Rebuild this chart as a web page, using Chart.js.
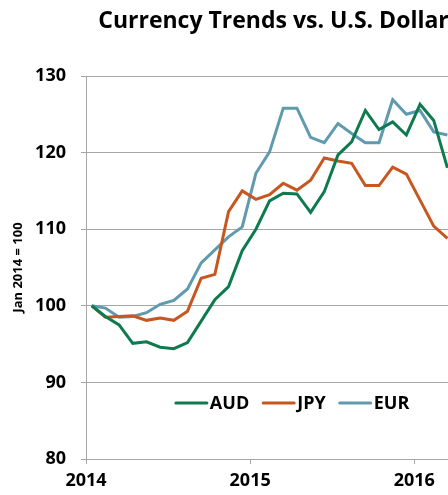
<!DOCTYPE html>
<html>
<head>
<meta charset="utf-8">
<script src="https://cdn.jsdelivr.net/npm/chart.js@4"></script>
<style>
  html, body { margin: 0; padding: 0; background: #fff; overflow: hidden; }
  #wrap { width: 547px; height: 495px; }
</style>
</head>
<body>
<div id="wrap"><canvas id="chart" width="547" height="495"></canvas></div>
<script>
// monthly index values, Jan 2014 = 100
const months = ['2014-01', '2014-02', '2014-03', '2014-04', '2014-05', '2014-06', '2014-07', '2014-08', '2014-09',
  '2014-10', '2014-11', '2014-12', '2015-01', '2015-02', '2015-03', '2015-04', '2015-05', '2015-06', '2015-07',
  '2015-08', '2015-09', '2015-10', '2015-11', '2015-12', '2016-01', '2016-02', '2016-03'];
const aud = [100, 98.6, 97.5, 95.1, 95.3, 94.6, 94.4, 95.2, 98.0, 100.8, 102.5, 107.2, 110.0, 113.7, 114.7, 114.6,
  112.2, 114.9, 119.7, 121.4, 125.5, 123.0, 124.0, 122.3, 126.3, 124.2, 118.0];
const jpy = [100, 98.5, 98.6, 98.7, 98.1, 98.4, 98.1, 99.3, 103.6, 104.1, 112.3, 115.0, 113.9, 114.5, 116.0, 115.1,
  116.4, 119.3, 118.9, 118.6, 115.7, 115.7, 118.1, 117.2, 113.8, 110.4, 108.8];
const eur = [100, 99.7, 98.5, 98.6, 99.1, 100.2, 100.7, 102.2, 105.6, 107.3, 109.0, 110.3, 117.3, 120.1, 125.8, 125.8,
  122.0, 121.3, 123.8, 122.5, 121.3, 121.3, 126.9, 125.0, 125.5, 122.7, 122.3];
const seriesNames = ['AUD', 'JPY', 'EUR'];
const yearTicks = ['2014', '2015', '2016'];
const yTicks = [80, 90, 100, 110, 120, 130];

(function () {
  'use strict';

  const FONT = '"Open Sans", sans-serif';
  const colors = ['#0e7a50', '#c8561f', '#5f9aae'];
  const firstYear = Number(yearTicks[0]);

  // months since Jan 2014, points sit mid-month
  const toX = (label) => {
    const [y, m] = label.split('-').map(Number);
    return (y - firstYear) * 12 + (m - 1) + 0.42;
  };
  const points = (values) => values.map((v, i) => ({ x: toX(months[i]), y: v }));

  // legend sits inside the plot, below the curves
  const legendInside = {
    id: 'legendInside',
    afterDraw(chart) {
      const { ctx } = chart;
      ctx.save();
      ctx.font = `bold 18px ${FONT}`;
      ctx.textBaseline = 'middle';
      const lineLen = 31;
      const gap = 3;
      const spacing = 14;
      const widths = seriesNames.map((n) => lineLen + gap + ctx.measureText(n).width);
      const total = widths.reduce((a, b) => a + b, 0) + spacing * (widths.length - 1);
      let x = chart.scales.x.getPixelForValue(15.1) - total / 2;
      const y = chart.scales.y.getPixelForValue(87.3);
      seriesNames.forEach((name, i) => {
        ctx.strokeStyle = colors[i];
        ctx.lineWidth = 3;
        ctx.lineCap = 'round';
        ctx.beginPath();
        ctx.moveTo(x, y);
        ctx.lineTo(x + lineLen, y);
        ctx.stroke();
        ctx.fillStyle = '#000';
        ctx.fillText(name, x + lineLen + gap, y + 1);
        x += widths[i] + spacing;
      });
      ctx.restore();
    }
  };

  new Chart(document.getElementById('chart'), {
    type: 'line',
    data: {
      datasets: [aud, jpy, eur].map((values, i) => ({
        label: seriesNames[i],
        data: points(values),
        borderColor: colors[i],
        borderWidth: 3,
        pointRadius: 0,
        tension: 0,
        fill: false
      }))
    },
    options: {
      responsive: false,
      animation: false,
      layout: { padding: 0 },
      plugins: {
        legend: { display: false },
        tooltip: { enabled: false },
        title: {
          display: true,
          text: 'Currency Trends vs. U.S. Dollar',
          color: '#000',
          font: { family: FONT, size: 23, weight: 'bold' },
          padding: { top: 8, bottom: 40.4 }
        }
      },
      scales: {
        x: {
          type: 'linear',
          min: 0,
          max: 33.7,
          afterBuildTicks: (scale) => {
            scale.ticks = yearTicks.map((_, i) => ({ value: i * 12 }));
          },
          afterFit: (scale) => { scale.height = 36; },
          grid: { drawOnChartArea: false, drawTicks: true, tickLength: 5, color: '#a6a6a6' },
          border: { display: true, color: '#a6a6a6' },
          ticks: {
            autoSkip: false,
            maxRotation: 0,
            padding: 6,
            color: '#000',
            font: { family: FONT, size: 18, weight: 'bold' },
            callback: (value) => yearTicks[Math.round(value / 12)] ?? ''
          }
        },
        y: {
          min: yTicks[0],
          max: yTicks[yTicks.length - 1],
          afterBuildTicks: (scale) => {
            scale.ticks = yTicks.map((v) => ({ value: v }));
          },
          afterFit: (scale) => { scale.width = 86; },
          grid: { color: '#a6a6a6', tickLength: 5, lineWidth: 1 },
          border: { display: true, color: '#a6a6a6' },
          ticks: {
            padding: 15,
            color: '#000',
            font: { family: FONT, size: 18, weight: 'bold' }
          },
          title: {
            display: true,
            text: 'Jan 2014 = 100',
            color: '#000',
            font: { family: FONT, size: 13, weight: 'bold' },
            padding: { top: 10, bottom: 0 }
          }
        }
      }
    },
    plugins: [legendInside]
  });
})();
</script>
</body>
</html>
